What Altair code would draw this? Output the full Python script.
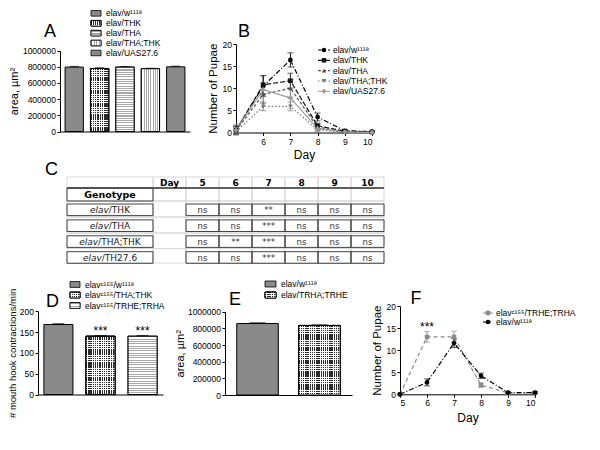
import altair as alt
import pandas as pd

FONT = "Liberation Sans"
TFONT = "DejaVu Sans"

# ---------------- data ----------------
# Panel A: larval area
a_geno = ["elav/w¹¹¹⁸", "elav/THK", "elav/THA", "elav/THA;THK", "elav/UAS27.6"]
a_area = [795000, 778000, 795000, 775000, 798000]
a_err = [9000, 8000, 8000, 6000, 9000]
a_pat = ["solid", "check", "hstripe", "vstripe", "solid"]

# Panel B: pupae per day
days = [5, 6, 7, 8, 9, 10]
b_series = ["elav/w¹¹¹⁸", "elav/THK", "elav/THA", "elav/THA;THK", "elav/UAS27.6"]
b_w1118 = [0.5, 10.5, 16.4, 3.5, 0.4, 0.2]
b_w1118_err = [1.0, 2.3, 1.6, 0.9, 0.3, 0.2]
b_thk = [0.5, 10.8, 11.7, 1.5, 0.3, 0.1]
b_thk_err = [0.8, 2.1, 1.7, 0.6, 0.2, 0.1]
b_tha = [0.4, 8.6, 10.0, 1.2, 0.2, 0.1]
b_tha_err = [0.8, 2.0, 2.0, 0.6, 0.2, 0.1]
b_thathk = [0.2, 5.9, 5.9, 0.6, 0.1, 0.0]
b_thathk_err = [0.4, 1.0, 1.0, 0.4, 0.1, 0.0]
b_uas = [0.6, 9.7, 7.8, 0.9, 0.1, 0.0]
b_uas_err = [1.2, 1.5, 2.4, 0.5, 0.1, 0.0]

# Panel C: significance table
c_days = ["5", "6", "7", "8", "9", "10"]
c_prefix = "elav"
c_geno = ["/THK", "/THA", "/THA;THK", "/TH27.6"]
c_thk = ["ns", "ns", "**", "ns", "ns", "ns"]
c_tha = ["ns", "ns", "***", "ns", "ns", "ns"]
c_thathk = ["ns", "**", "***", "ns", "ns", "ns"]
c_th276 = ["ns", "ns", "***", "ns", "ns", "ns"]

# Panel D: mouth hook contractions
d_geno = ["elavᶜ¹⁵⁵/w¹¹¹⁸", "elavᶜ¹⁵⁵/THA;THK", "elavᶜ¹⁵⁵/TRHE;TRHA"]
d_rate = [168, 140, 140]
d_err = [2, 1.5, 1.5]
d_sig = ["", "***", "***"]
d_pat = ["solid", "check", "hstripe"]

# Panel E: larval area
e_geno = ["elav/w¹¹¹⁸", "elav/TRHA;TRHE"]
e_area = [858000, 835000]
e_err = [9000, 7000]
e_pat = ["solid", "check"]

# Panel F: pupae per day
f_series = ["elavᶜ¹⁵⁵/TRHE;TRHA", "elav/w¹¹¹⁸"]
f_trhe = [0.0, 13.0, 13.0, 2.1, 0.3, 0.3]
f_trhe_err = [0.1, 1.2, 1.3, 0.5, 0.2, 0.2]
f_trhe_sig = ["", "***", "", "", "", ""]
f_w1118 = [0.0, 2.7, 11.6, 4.2, 0.4, 0.4]
f_w1118_err = [0.1, 0.8, 1.0, 0.6, 0.2, 0.2]

# ---------------- figure frame (pixels) ----------------
W, H = 584, 432


# ---------------- helpers ----------------
def stripes(n, c1, c2, along, frac=0.5):
    n = max(int(round(n)), 1)
    stops = []
    for i in range(n):
        a, m, b = i / n, (i + frac) / n, (i + 1) / n
        stops += [alt.GradientStop(offset=round(a, 5), color=c1),
                  alt.GradientStop(offset=round(m, 5), color=c1),
                  alt.GradientStop(offset=round(m, 5), color=c2),
                  alt.GradientStop(offset=round(b, 5), color=c2)]
    if along == "y":
        return alt.LinearGradient(gradient="linear", stops=stops, x1=0, x2=0, y1=0, y2=1)
    return alt.LinearGradient(gradient="linear", stops=stops, x1=0, x2=1, y1=0, y2=0)


def pattern_fills(p, bw, bh):
    """Fills (bottom to top) that imitate GraphPad hatch patterns for a w x h pixel box."""
    if p == "hstripe":
        return [stripes(bh / 2.3, "#a8a8a8", "white", "y")]
    if p == "vstripe":
        return [stripes(bw / 2.4, "#a8a8a8", "white", "x", 0.45)]
    if p == "check":
        return [stripes(bw / 2.2, "#2a2a2a", "white", "x", 0.6),
                stripes(bh / 2.2, "rgba(255,255,255,0)", "white", "y", 0.65)]
    return []


def letter_layer(letter, x, y):
    return alt.Chart(pd.DataFrame({"t": [letter]})).mark_text(
        font=FONT, fontSize=18, align="center", baseline="alphabetic", color="black"
    ).encode(x=alt.value(x), y=alt.value(y), text="t:N")


SOLID = {"solid": "#8a8a8a", "check": "#9a9a9a", "hstripe": "#cfcfcf", "vstripe": "#cccccc"}


def bar_legend(cats, pats, x0, sw, top, step, sh):
    df = pd.DataFrame({"g": cats})
    pin = 1 - sh / step
    ye = alt.Y("g:N", sort=cats, axis=None,
               scale=alt.Scale(type="band", domain=cats, range=[top, top + step * len(cats)],
                               paddingInner=pin, paddingOuter=pin / 2))
    base = alt.Chart(df)
    layers = [base.mark_rect(stroke="black", strokeWidth=0.8).encode(
        x=alt.value(x0), x2=alt.value(x0 + sw), y=ye,
        fill=alt.Fill("g:N", scale=alt.Scale(domain=cats, range=[SOLID[p] for p in pats]), legend=None))]
    for c, p in zip(cats, pats):
        for f in pattern_fills(p, sw, sh):
            layers.append(base.transform_filter(alt.datum.g == c).mark_rect(
                fill=f, stroke="black", strokeWidth=0.8).encode(
                x=alt.value(x0), x2=alt.value(x0 + sw), y=ye))
    layers.append(base.mark_text(font=FONT, fontSize=8.5, align="left", baseline="middle",
                                 color="black").encode(x=alt.value(x0 + sw + 5), y=ye, text="g:N"))
    return alt.layer(*layers)


def line_legend(series, colors, dashes, shapes, x0, x1, lx, y_first, y_last):
    df = pd.DataFrame({"s": series})
    ye = alt.Y("s:N", sort=series, axis=None,
               scale=alt.Scale(type="point", domain=series, range=[y_first, y_last], padding=0))
    col = alt.Color("s:N", scale=alt.Scale(domain=series, range=colors), legend=None)
    base = alt.Chart(df)
    return alt.layer(
        base.mark_rule(strokeWidth=1.1).encode(
            x=alt.value(x0), x2=alt.value(x1), y=ye, color=col,
            strokeDash=alt.StrokeDash("s:N", scale=alt.Scale(domain=series, range=dashes), legend=None)),
        base.mark_point(filled=True, opacity=1, size=20).encode(
            x=alt.value((x0 + x1) / 2), y=ye, color=col,
            shape=alt.Shape("s:N", scale=alt.Scale(domain=series, range=shapes), legend=None)),
        base.mark_text(font=FONT, fontSize=8.5, align="left", baseline="middle", color="black").encode(
            x=alt.value(lx), y=ye, text="s:N"),
    )


def bar_panel(cats, vals, errs, pats, ymax, ystep, xr, yr, p_in, p_out, ytitle, ytsize, ytpad,
              letter, lxy, stars=None, cap=9):
    n = len(cats)
    df = pd.DataFrame({"g": cats, "v": vals, "hi": [v + e for v, e in zip(vals, errs)],
                       "s": stars if stars else [""] * n})
    xe = alt.X("g:N", sort=cats,
               scale=alt.Scale(domain=cats, range=list(xr), paddingInner=p_in, paddingOuter=p_out),
               axis=alt.Axis(labels=False, ticks=False, title=None, domain=True, orient="bottom",
                             offset=yr[0] - H))
    ys = alt.Scale(domain=[0, ymax], range=list(yr), nice=False)
    yax = alt.Axis(values=list(range(0, ymax + 1, ystep)), format="d", title=ytitle, orient="left",
                   offset=-xr[0], titleFontSize=ytsize, titlePadding=ytpad)
    ye = alt.Y("v:Q", scale=ys, axis=yax)
    base = alt.Chart(df)
    layers = [base.mark_bar(stroke="black", strokeWidth=1).encode(
        x=xe, y=ye,
        color=alt.Color("g:N", scale=alt.Scale(domain=cats, range=[SOLID[p] for p in pats]), legend=None))]
    w = xr[1] - xr[0]
    h = yr[0] - yr[1]
    step = w / (n - p_in + 2 * p_out)
    bw = step * (1 - p_in)
    for i, p in enumerate(pats):
        bh = vals[i] / ymax * h
        for f in pattern_fills(p, bw, bh):
            layers.append(base.transform_filter(alt.datum.g == cats[i]).mark_bar(
                fill=f, stroke="black", strokeWidth=1).encode(x=xe, y=ye))
    layers.append(base.mark_rule(color="black", strokeWidth=1).encode(x=xe, y=ye, y2="hi:Q"))
    layers.append(base.mark_tick(color="black", thickness=1, size=cap).encode(
        x=xe, y=alt.Y("hi:Q", scale=ys, axis=yax)))
    if stars:
        layers.append(base.mark_text(font=FONT, fontSize=12, baseline="alphabetic", dy=-1,
                                     color="black").encode(
            x=xe, y=alt.Y("hi:Q", scale=ys, axis=yax), text="s:N"))
    layers.append(letter_layer(letter, *lxy))
    return alt.layer(*layers)


def line_panel(series, means, errs, colors, dashes, shapes, sizes, xvals, xr, yr,
               letter, lxy, sig=None, xtpad=4):
    rows = []
    for si, s in enumerate(series):
        for di, d in enumerate(days):
            m, e = means[si][di], errs[si][di]
            rows.append({"s": s, "day": d, "v": m, "lo": m - e, "hi": m + e,
                         "sig": sig[si][di] if sig else ""})
    df = pd.DataFrame(rows)
    xe = alt.X("day:Q", scale=alt.Scale(domain=[5, 10], range=list(xr), nice=False, zero=False),
               axis=alt.Axis(values=xvals, format="d", title="Day", titleFontSize=12, orient="bottom",
                             offset=yr[0] - H, titlePadding=xtpad))
    ys = alt.Scale(domain=[0, 20], range=list(yr), nice=False)
    yax = alt.Axis(values=[0, 5, 10, 15, 20], title="Number of Pupae", titleFontSize=11.5,
                   titlePadding=4, orient="left", offset=-xr[0])
    ye = alt.Y("v:Q", scale=ys, axis=yax)
    col = alt.Color("s:N", scale=alt.Scale(domain=series, range=colors), legend=None)
    base = alt.Chart(df)
    layers = [
        base.mark_line(strokeWidth=1.2).encode(
            x=xe, y=ye, color=col, detail="s:N",
            strokeDash=alt.StrokeDash("s:N", scale=alt.Scale(domain=series, range=dashes), legend=None)),
        base.mark_rule(strokeWidth=0.9).encode(
            x=xe, y=alt.Y("lo:Q", scale=ys, axis=yax), y2="hi:Q", color=col),
        base.mark_tick(orient="horizontal", thickness=0.9, size=6).encode(
            x=xe, y=alt.Y("lo:Q", scale=ys, axis=yax), color=col),
        base.mark_tick(orient="horizontal", thickness=0.9, size=6).encode(
            x=xe, y=alt.Y("hi:Q", scale=ys, axis=yax), color=col),
        base.mark_point(filled=True, opacity=1).encode(
            x=xe, y=ye, color=col,
            shape=alt.Shape("s:N", scale=alt.Scale(domain=series, range=shapes), legend=None),
            size=alt.Size("s:N", scale=alt.Scale(domain=series, range=sizes), legend=None)),
    ]
    if sig:
        layers.append(base.mark_text(font=FONT, fontSize=12, baseline="alphabetic", dy=-1,
                                     color="black").encode(
            x=xe, y=alt.Y("hi:Q", scale=ys, axis=yax), text="sig:N"))
    layers.append(letter_layer(letter, *lxy))
    return alt.layer(*layers)


CW = {"e": .615, "l": .278, "a": .613, "v": .592, "/": .337, "T": .611, "H": .752, "K": .656,
      "A": .684, ";": .337, "2": .636, "7": .636, ".": .318, "6": .636}


def twidth(s, size):
    return sum(CW.get(ch, .62) for ch in s) * size


def table_panel(x0, y0):
    widths = [86] + [33] * 7
    edges = [0]
    for wd in widths:
        edges.append(edges[-1] + wd)
    TW, TH = edges[-1], 86
    row_lines = [0, 11, 24, 40, 56, 71.5, 86]
    hdr = ["", "Day"] + c_days
    light = []
    for j in range(len(widths)):
        for r in range(len(row_lines) - 1):
            light.append({"x0": edges[j], "x1": edges[j + 1], "y0": row_lines[r], "y1": row_lines[r + 1]})
    dark = [{"x0": 0, "x1": edges[1], "y0": 11, "y1": 24}]
    vals = [c_thk, c_tha, c_thathk, c_th276]
    texts, pre, suf = [], [], []
    for j, t in enumerate(hdr):
        if t:
            texts.append({"x": (edges[j] + edges[j + 1]) / 2, "y": 5.8, "t": t, "sz": 9})
    texts.append({"x": edges[1] / 2, "y": 17.8, "t": "Genotype", "sz": 9.5})
    cell_t = []
    for i, g in enumerate(c_geno):
        top = 27 + i * 15.9
        dark.append({"x0": 0, "x1": edges[1], "y0": top, "y1": top + 11.6})
        for j in range(2, len(widths)):
            dark.append({"x0": edges[j], "x1": edges[j + 1], "y0": top, "y1": top + 11.6})
            cell_t.append({"x": (edges[j] + edges[j + 1]) / 2, "y": top + 6.2, "t": vals[i][j - 2]})
        total = twidth(c_prefix, 9) + twidth(g, 9)
        split = edges[1] / 2 - total / 2 + twidth(c_prefix, 9)
        pre.append({"x": split, "y": top + 6.2, "t": c_prefix})
        suf.append({"x": split, "y": top + 6.2, "t": g})
    xs = alt.Scale(domain=[0, TW], range=[x0, x0 + TW], nice=False, zero=False)
    ysc = alt.Scale(domain=[0, TH], range=[y0, y0 + TH], nice=False, zero=False)

    def rects(data, color, sw):
        return alt.Chart(pd.DataFrame(data)).mark_rect(fill=None, stroke=color, strokeWidth=sw).encode(
            x=alt.X("x0:Q", scale=xs, axis=None), x2="x1:Q",
            y=alt.Y("y0:Q", scale=ysc, axis=None), y2="y1:Q")

    def txt(data, **kw):
        return alt.Chart(pd.DataFrame(data)).mark_text(font=TFONT, baseline="middle", **kw).encode(
            x=alt.X("x:Q", scale=xs, axis=None), y=alt.Y("y:Q", scale=ysc, axis=None), text="t:N")

    rule = alt.Chart(pd.DataFrame([{"x0": 0, "x1": TW, "y": 11}])).mark_rule(
        color="#333", strokeWidth=1.4).encode(
        x=alt.X("x0:Q", scale=xs, axis=None), x2="x1:Q", y=alt.Y("y:Q", scale=ysc, axis=None))
    layers = [
        rects(light, "#d8d8d8", 1),
        rule,
        rects(dark, "#444", 1),
        txt([t for t in texts if t["sz"] == 9], fontSize=9, fontWeight="bold", color="black"),
        txt([t for t in texts if t["sz"] == 9.5], fontSize=9.5, fontWeight="bold", color="black"),
        txt(cell_t, fontSize=8.5, color="#333", align="center"),
        txt(pre, fontSize=9, fontStyle="italic", color="#222", align="right"),
        txt(suf, fontSize=9, color="#222", align="left"),
        letter_layer("C", 43.5, 167),
    ]
    return alt.layer(*layers)


# ---------------- panels (pixel frames of each plot area) ----------------
b_colors = ["#000000", "#111111", "#555555", "#777777", "#9a9a9a"]
b_dashes = [[5, 2, 1, 2], [5, 2], [3, 2], [1.5, 2], [1, 0]]
b_shapes = ["circle", "square", "triangle-up", "triangle-down", "cross"]
f_colors = ["#8a8a8a", "#000000"]
f_dashes = [[4, 3], [5, 2, 1, 2]]
f_shapes = ["square", "circle"]

A = bar_panel(a_geno, a_area, a_err, a_pat, 1000000, 200000, (52, 182), (123.5, 42.5), 0.28, 0.2,
              "area, µm²", 11, 3, "A", (42, 29), cap=9)
LA = bar_legend(a_geno, a_pat, 83, 10, 0.4, 9.9, 5.6)

B = line_panel(b_series,
               [b_w1118, b_thk, b_tha, b_thathk, b_uas],
               [b_w1118_err, b_thk_err, b_tha_err, b_thathk_err, b_uas_err],
               b_colors, b_dashes, b_shapes, [22, 20, 22, 22, 22], [6, 7, 8, 9, 10],
               (228, 364), (124.5, 36), "B", (236, 29), xtpad=4)
LB = line_legend(b_series, b_colors, b_dashes, b_shapes, 310, 322, 325, 42, 83.3)

C = table_panel(59, 169)

D = bar_panel(d_geno, d_rate, d_err, d_pat, 200, 50, (30, 155), (386.5, 303.2), 0.31, 0.14,
              "# mouth hook contractions/min", 9.5, 2, "D", (44.5, 299), stars=d_sig, cap=12)
LD = bar_legend(d_geno, d_pat, 62, 10, 271.25, 10.5, 5.8)

E = bar_panel(e_geno, e_area, e_err, e_pat, 1000000, 200000, (217, 344), (387, 303.7), 0.33, 0.19,
              "area, µm²", 11, 2, "E", (227, 297), cap=16)
LE = bar_legend(e_geno, e_pat, 257, 11, 270.5, 11, 6)

F = line_panel(f_series, [f_trhe, f_w1118], [f_trhe_err, f_w1118_err],
               f_colors, f_dashes, f_shapes, [20, 22], [5, 6, 7, 8, 9, 10],
               (392, 527), (386.3, 298), "F", (408, 296), sig=[f_trhe_sig, [""] * 6], xtpad=5)
LF = line_legend(f_series, f_colors, f_dashes, f_shapes, 475, 485, 488, 305, 314)

RES = dict(x="independent", y="independent", color="independent", shape="independent",
           strokeDash="independent", size="independent", fill="independent", stroke="independent")

chart = alt.layer(A, LA, B, LB, C, D, LD, E, LE, F, LF).resolve_scale(**RES).resolve_axis(
    x="independent", y="independent"
).properties(
    width=W, height=H, padding=0, autosize=alt.AutoSizeParams(type="none")
).configure_view(
    stroke=None
).configure_axis(
    domainColor="black", tickColor="black", labelColor="black", titleColor="black",
    labelFont=FONT, titleFont=FONT, labelFontSize=8.5, titleFontWeight="normal",
    tickSize=3, grid=False, labelPadding=1.5, domainWidth=1, tickWidth=1
)

chart.save("out.html", embed_options={"renderer": "svg", "actions": False})
